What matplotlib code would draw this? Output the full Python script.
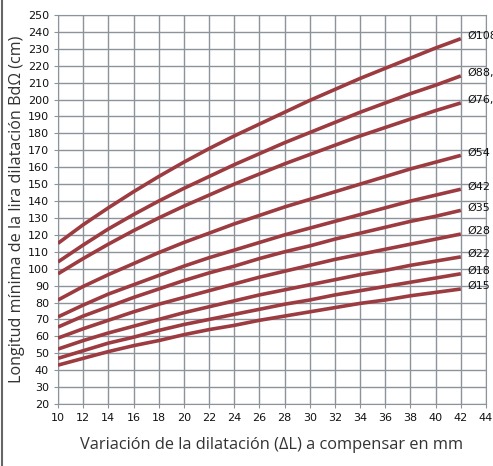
import matplotlib
matplotlib.use("Agg")
import matplotlib.pyplot as plt
from matplotlib.lines import Line2D

# dilatation (mm)
dl = [10, 12, 14, 16, 18, 20, 22, 24, 26, 28, 30, 32, 34, 36, 38, 40, 42]

# minimum length of the loop (cm)
diameters = ["Ø108", "Ø88,9", "Ø76,1", "Ø54", "Ø42", "Ø35", "Ø28", "Ø22", "Ø18", "Ø15"]
d108 = [115, 126, 136, 145.5, 154.5, 163, 171, 178.5, 185.5, 192.5, 199.5, 206, 212.5, 218.5, 224.5, 230.5, 236]
d88 = [104, 114, 123.5, 132, 140, 147.5, 154.5, 161.5, 168, 174.5, 180.5, 186.5, 192.5, 198, 203.5, 208.5, 214]
d76 = [97, 106, 114.5, 122.5, 130, 137, 143.5, 150, 156, 162, 167.5, 173, 178.5, 183.5, 188.5, 193.5, 198]
d54 = [81.5, 89.5, 96.5, 103, 109.5, 115.5, 121, 126.5, 131.5, 136.5, 141, 145.5, 150, 154.5, 159, 163, 167]
d42 = [71.5, 78.5, 85, 90.5, 96, 101.5, 106.5, 111, 115.5, 120, 124, 128, 132, 136, 140, 143.5, 147]
d35 = [65.5, 72, 77.5, 83, 88, 93, 97.5, 101.5, 106, 110, 113.5, 117.5, 121, 124.5, 128, 131, 134.5]
d28 = [59, 64.5, 69.5, 74.5, 79, 83, 87, 91, 95, 98.5, 102, 105.5, 108.5, 111.5, 114.5, 117.5, 120.5]
d22 = [52.5, 57.5, 62, 66, 70, 74, 77.5, 81, 84.5, 87.5, 90.5, 93.5, 96.5, 99, 102, 104.5, 107]
d18 = [47, 51.5, 56, 59.5, 63.5, 67, 70, 73, 76, 79, 81.5, 84.5, 87, 89.5, 92, 94.5, 97]
d15 = [43, 47, 51, 54.5, 57.5, 61, 64, 66.5, 69.5, 72, 74.5, 77, 79.5, 81.5, 84, 86, 88]
series = [d108, d88, d76, d54, d42, d35, d28, d22, d18, d15]

xticks = list(range(10, 46, 2))
yticks = list(range(20, 260, 10))

red = "#9c3b40"
grid = "#8d939b"

fig = plt.figure(figsize=(4.93, 4.66), dpi=100)
ax = fig.add_axes([0.1176, 0.133, 0.8682, 0.8348])

for vals, name in zip(series, diameters):
    ax.plot(dl, vals, color=red, lw=2.6, solid_capstyle="butt", zorder=3)
    ax.annotate(name, (dl[-1], vals[-1]), xytext=(4.5, 2), textcoords="offset points",
                va="center", ha="left", fontsize=8, family="Liberation Sans Narrow",
                color="#111111", annotation_clip=False)

ax.set_xlim(10, 44)
ax.set_ylim(20, 250)
ax.set_xticks(xticks)
ax.set_yticks(yticks)
ax.grid(True, color=grid, lw=1)
for s in ax.spines.values():
    s.set_color(grid)
ax.tick_params(colors=grid, length=3, labelcolor="#111111", labelsize=8)
for lab in ax.get_xticklabels() + ax.get_yticklabels():
    lab.set_family("Liberation Sans Narrow")

ax.set_xlabel("Variación de la dilatación (ΔL) a compensar en mm",
              fontsize=11.8, family="Open Sans", color="#333333", labelpad=10)
ax.set_ylabel("Longitud mínima de la lira dilatación BdΩ (cm)",
              fontsize=11.6, family="Open Sans", color="#333333", labelpad=2)

# thin frame on the left edge of the picture
fig.add_artist(Line2D([0.005, 0.005], [0, 1], color="#666666", lw=1.5))

plt.savefig("out.png", dpi=100)
